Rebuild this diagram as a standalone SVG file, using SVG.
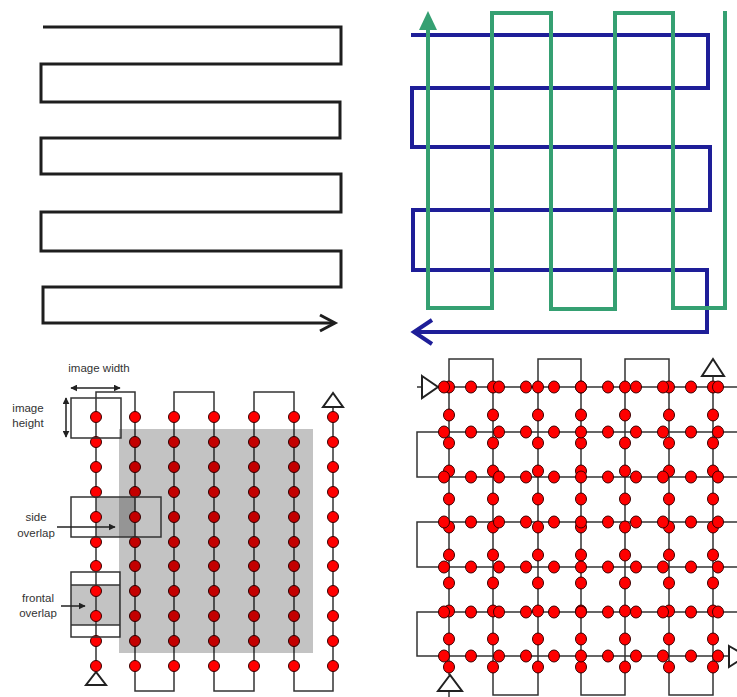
<svg xmlns="http://www.w3.org/2000/svg" width="737" height="697" viewBox="0 0 737 697">
<style>
.bk{fill:none;stroke:#1e1e1e;stroke-width:3;stroke-linejoin:miter}
.bl{fill:none;stroke:#1e1e98;stroke-width:4}
.gr{fill:none;stroke:#35a072;stroke-width:4}
.ln{fill:none;stroke:#333;stroke-width:1.5}
.dt{fill:#ff0000;stroke:#3a0000;stroke-width:1}
.sh{fill:#000;fill-opacity:0.235}
.tri{fill:#fff;stroke:#222;stroke-width:2}
.lb{font-family:"Liberation Sans",Arial,sans-serif;font-size:11.5px;fill:#333;text-anchor:middle}
.ar{fill:none;stroke:#222;stroke-width:1.5}
</style>
<defs>
<marker id="ah" viewBox="0 0 10 10" refX="9" refY="5" markerWidth="7" markerHeight="7" orient="auto-start-reverse" markerUnits="userSpaceOnUse">
<path d="M0,0 L10,5 L0,10 z" fill="#222"/>
</marker>
<g id="blcol">
<circle class="dt" cx="0" cy="417" r="5.5"/><circle class="dt" cx="0" cy="442" r="5.5"/><circle class="dt" cx="0" cy="467" r="5.5"/><circle class="dt" cx="0" cy="492" r="5.5"/><circle class="dt" cx="0" cy="517" r="5.5"/><circle class="dt" cx="0" cy="542" r="5.5"/><circle class="dt" cx="0" cy="566" r="5.5"/><circle class="dt" cx="0" cy="591" r="5.5"/><circle class="dt" cx="0" cy="616" r="5.5"/><circle class="dt" cx="0" cy="641" r="5.5"/><circle class="dt" cx="0" cy="666" r="5.5"/>
</g>
<g id="vcol">
<ellipse class="dt" cx="0" cy="387" rx="5.5" ry="6"/><ellipse class="dt" cx="0" cy="415" rx="5.5" ry="6"/><ellipse class="dt" cx="0" cy="443" rx="5.5" ry="6"/><ellipse class="dt" cx="0" cy="471" rx="5.5" ry="6"/><ellipse class="dt" cx="0" cy="499" rx="5.5" ry="6"/><ellipse class="dt" cx="0" cy="527" rx="5.5" ry="6"/><ellipse class="dt" cx="0" cy="555" rx="5.5" ry="6"/><ellipse class="dt" cx="0" cy="583" rx="5.5" ry="6"/><ellipse class="dt" cx="0" cy="611" rx="5.5" ry="6"/><ellipse class="dt" cx="0" cy="639" rx="5.5" ry="6"/><ellipse class="dt" cx="0" cy="667" rx="5.5" ry="6"/>
</g>
<g id="hrow">
<ellipse class="dt" cx="444" cy="0" rx="5.5" ry="6"/><ellipse class="dt" cx="471" cy="0" rx="5.5" ry="6"/><ellipse class="dt" cx="499" cy="0" rx="5.5" ry="6"/><ellipse class="dt" cx="526" cy="0" rx="5.5" ry="6"/><ellipse class="dt" cx="554" cy="0" rx="5.5" ry="6"/><ellipse class="dt" cx="581" cy="0" rx="5.5" ry="6"/><ellipse class="dt" cx="608" cy="0" rx="5.5" ry="6"/><ellipse class="dt" cx="636" cy="0" rx="5.5" ry="6"/><ellipse class="dt" cx="663" cy="0" rx="5.5" ry="6"/><ellipse class="dt" cx="691" cy="0" rx="5.5" ry="6"/><ellipse class="dt" cx="718" cy="0" rx="5.5" ry="6"/>
</g>
</defs>
<rect width="737" height="697" fill="#fff"/>

<g id="panel-tl">
<path class="bk" d="M43,27 H341 V64 H41 V102 H340 V138 H41 V174 H341 V212 H41 V251 H341 V287 H43 V323 H334"/>
<path class="bk" d="M320,315 L335,323 L320,331"/>
</g>

<g id="panel-tr">
<path class="bl" d="M411,35 H708 V88 H412 V147 H710 V210 H413 V270 H707 V332 H416"/>
<path class="bl" d="M432,320 L414,332 L432,344"/>
<path class="gr" d="M725,11 V308 H673 V13 H615 V309 H551 V13 H492 V308 H428 V26"/>
<polygon points="428,11 419,30 437,30" fill="#35a072"/>
</g>

<g id="panel-bl">
<rect class="sh" x="96" y="497" width="39" height="40"/>
<rect class="sh" x="71" y="585" width="49" height="40"/>
<g id="bl-connectors">
<path class="ln" d="M96,672 V392 H135 V691 H174 V392 H214 V691 H254 V392 H294 V691 H333 V407"/>
</g>
<polygon class="tri" points="96,672 86,685 106,685"/>
<polygon class="tri" points="333,393 323,407 343,407"/>
<use href="#blcol" x="96"/><use href="#blcol" x="135"/><use href="#blcol" x="174"/><use href="#blcol" x="214"/><use href="#blcol" x="254"/><use href="#blcol" x="294"/><use href="#blcol" x="333"/>
<rect class="sh" x="119" y="429" width="194" height="224"/>
<g id="image-box">
<rect class="ln" x="71" y="398" width="50" height="40"/>
<line class="ar" x1="71" y1="388" x2="120" y2="388" marker-start="url(#ah)" marker-end="url(#ah)"/>
<line class="ar" x1="66" y1="398" x2="66" y2="437" marker-start="url(#ah)" marker-end="url(#ah)"/>
<text class="lb" x="99" y="372">image width</text>
<text class="lb" x="28" y="412">image</text>
<text class="lb" x="28" y="427">height</text>
</g>
<g id="side-overlap">
<rect class="ln" x="71" y="497" width="90" height="40"/>
<line class="ar" x1="57" y1="527" x2="115" y2="527" marker-end="url(#ah)"/>
<text class="lb" x="36" y="521">side</text>
<text class="lb" x="36" y="537">overlap</text>
</g>
<g id="frontal-overlap">
<rect class="ln" x="71" y="572" width="49" height="65"/>
<line class="ln" x1="71" y1="585" x2="120" y2="585"/>
<line class="ln" x1="71" y1="625" x2="120" y2="625"/>
<line class="ar" x1="61" y1="606" x2="85" y2="606" marker-end="url(#ah)"/>
<text class="lb" x="38" y="602">frontal</text>
<text class="lb" x="38" y="617">overlap</text>
</g>
</g>

<g id="panel-br">
<g id="br-connectors">
<path class="ln" d="M449,675 V359 H493 V695 H538 V359 H581 V695 H625 V359 H669 V695 H713 V376"/>
<line class="ln" x1="449" y1="691" x2="449" y2="697"/>
<path class="ln" d="M417,387 H737 M737,432 H417 V477 H737 M737,522 H417 V567 H737 M737,612 H417 V656 H729"/>
</g>
<polygon class="tri" points="422,376 438,387 422,398"/>
<polygon class="tri" points="713,359 702,376 724,376"/>
<polygon class="tri" points="450,675 438,691 462,691"/>
<polygon class="tri" points="729,646 746,656 729,667"/>
<use href="#vcol" x="449"/><use href="#vcol" x="493"/><use href="#vcol" x="538"/><use href="#vcol" x="581"/><use href="#vcol" x="625"/><use href="#vcol" x="669"/><use href="#vcol" x="713"/>
<use href="#hrow" y="387"/><use href="#hrow" y="432"/><use href="#hrow" y="477"/><use href="#hrow" y="522"/><use href="#hrow" y="567"/><use href="#hrow" y="612"/><use href="#hrow" y="656"/>
</g>
</svg>
